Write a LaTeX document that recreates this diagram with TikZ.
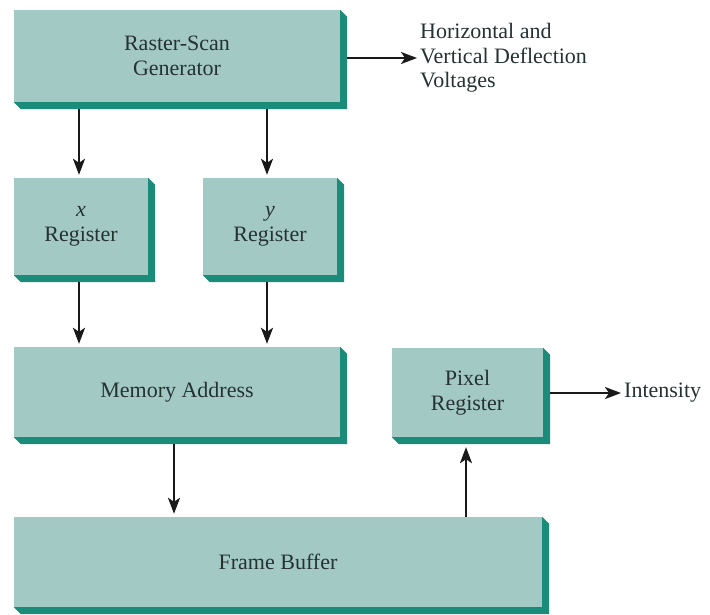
\documentclass[tikz,border=0pt]{standalone}
\usepackage{fontspec}
\setmainfont{Liberation Serif}
\usetikzlibrary{arrows.meta,calc}
\definecolor{face}{HTML}{A3C9C5}
\definecolor{sidec}{HTML}{1B8C7A}
\definecolor{ink}{HTML}{263232}
\tikzset{
 block/.style={fill=face, draw=none, inner sep=0pt, align=center, text=ink, font=\fontsize{22}{25}\selectfont},
 arr/.style={line width=2pt, -{Stealth[length=16pt,width=12pt,inset=4pt]}, draw=black!90, shorten >=3pt},
 lbl/.style={text=ink, font=\fontsize{22}{24.5}\selectfont, align=left, inner sep=0pt, anchor=west}
}
\newcommand\blockshadow[1]{\fill[sidec] (#1.north east) -- ++(7,7) -- ($(#1.south east)+(7,7)$) -- ($(#1.south west)+(7,7)$) -- (#1.south west) -- (#1.south east) -- cycle;}
\begin{document}
\begin{tikzpicture}[x=1pt,y=-1pt]
\useasboundingbox[fill=white] (0,0) rectangle (710,614);
\node[block, minimum width=326pt, minimum height=92pt] (rsg) at (177,56) {Raster-Scan\\Generator};
\node[block, minimum width=134pt, minimum height=97pt] (xr) at (81,226.5) {{\itshape x}\\Register};
\node[block, minimum width=134pt, minimum height=97pt] (yr) at (270,226.5) {{\itshape y}\\Register};
\node[block, minimum width=326pt, minimum height=90pt] (mem) at (177,392) {Memory Address};
\node[block, minimum width=151pt, minimum height=89pt] (pix) at (467.5,392.5) {Pixel\\Register};
\node[block, minimum width=528pt, minimum height=90pt] (fb) at (278,562) {Frame Buffer};
\foreach \n in {rsg,xr,yr,mem,pix,fb} {\blockshadow{\n}}
\node[lbl] (defl) at (420,58) {Horizontal and\\Vertical Deflection\\Voltages};
\node[lbl] (int) at (624,393) {Intensity};
\draw[arr] ($(rsg.east)+(7,2)$) -- (defl.west);
\draw[arr] ($(pix.east)+(7,0.5)$) -- (int.west);
\draw[arr] ($(rsg.south)+(-98,7)$) -- ($(xr.north)+(-2,0)$);
\draw[arr] ($(rsg.south)+(90,7)$) -- ($(yr.north)+(-3,0)$);
\draw[arr] ($(xr.south)+(-2,7)$) -- ($(mem.north)+(-98,0)$);
\draw[arr] ($(yr.south)+(-3,7)$) -- ($(mem.north)+(90,0)$);
\draw[arr] ($(mem.south)+(-3,7)$) -- ($(fb.north)+(-104,0)$);
\draw[arr] ($(fb.north)+(188,0)$) -- ($(pix.south)+(-1.5,7)$);
\end{tikzpicture}
\end{document}
